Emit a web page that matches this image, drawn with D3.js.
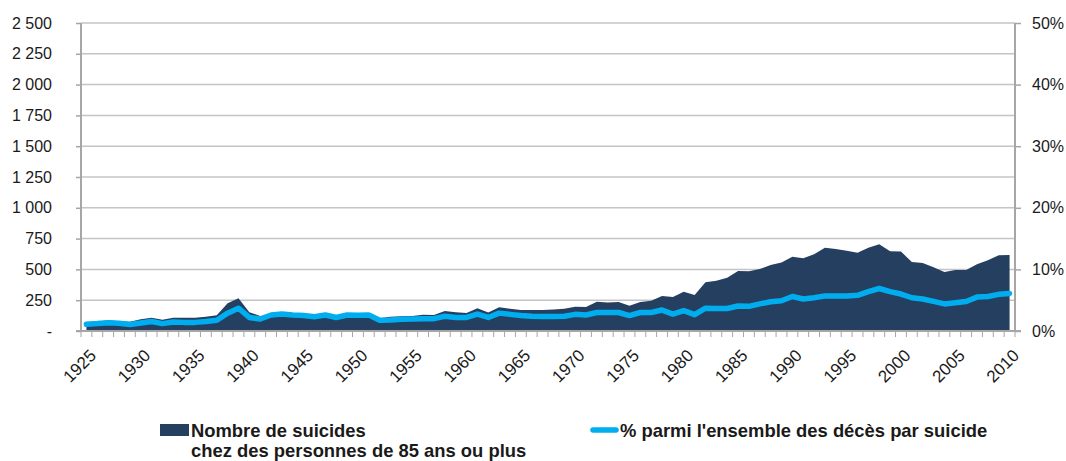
<!DOCTYPE html>
<meta charset="utf-8">
<script src="https://d3js.org/d3.v7.min.js"></script>
<style>
  body { margin: 0; background: #fff; }
  text { font-family: "Liberation Sans", Arial, sans-serif; fill: #1a1a1a; }
</style>
<div id="my_dataviz"></div>
<script>

  // years 1925..2010
  var years = d3.range(1925, 2011);

  // number of suicides, people aged 85+
  var counts = [68, 76, 87, 80, 76, 95, 108, 92, 108, 108,
                108, 116, 127, 225, 265, 152, 122, 130, 140, 135,
                130, 125, 135, 120, 140, 135, 140, 103, 115, 120,
                122, 132, 130, 162, 152, 146, 184, 150, 192, 180,
                170, 170, 170, 175, 180, 197, 195, 238, 232, 235,
                205, 235, 246, 284, 276, 319, 292, 395, 408, 433,
                487, 486, 503, 536, 555, 603, 590, 622, 676, 666,
                652, 636, 676, 704, 647, 645, 560, 551, 517, 479,
                495, 495, 541, 574, 614, 617];

  // share among all suicide deaths (%)
  var shares = [1.1, 1.2, 1.35, 1.25, 1.05, 1.3, 1.55, 1.2, 1.45, 1.4,
                1.4, 1.55, 1.75, 2.9, 3.7, 2.2, 1.95, 2.6, 2.75, 2.6,
                2.5, 2.3, 2.6, 2.2, 2.6, 2.55, 2.6, 1.75, 1.8, 1.9,
                1.95, 2.0, 2.0, 2.4, 2.2, 2.2, 2.75, 2.2, 2.9, 2.7,
                2.5, 2.4, 2.35, 2.35, 2.4, 2.7, 2.6, 3.0, 3.0, 3.0,
                2.5, 3.0, 3.0, 3.4, 2.75, 3.3, 2.65, 3.7, 3.65, 3.65,
                4.05, 4.0, 4.4, 4.75, 4.9, 5.6, 5.2, 5.4, 5.7, 5.7,
                5.7, 5.8, 6.4, 6.9, 6.4, 6.0, 5.4, 5.2, 4.8, 4.4,
                4.6, 4.8, 5.5, 5.6, 5.95, 6.1];

  var leftTicks = [0, 250, 500, 750, 1000, 1250, 1500, 1750, 2000, 2250, 2500];
  var rightTicks = [0, 10, 20, 30, 40, 50];
  var legendArea = ["Nombre de suicides", "chez des personnes de 85 ans ou plus"];
  var legendLine = "% parmi l'ensemble des décès par suicide";

  var margin = {top: 23, right: 51, bottom: 130, left: 81},
      width = 1066 - margin.left - margin.right,
      height = 461 - margin.top - margin.bottom;

  var svg = d3.select("#my_dataviz")
    .append("svg")
      .attr("width", 1066)
      .attr("height", 461)
    .append("g")
      .attr("transform", "translate(" + margin.left + "," + margin.top + ")");

  var data = years.map(function(y, i) { return {year: y, n: counts[i], pct: shares[i]}; });

  var x = d3.scaleBand().domain(years).range([0, width]).padding(0);
  var cx = function(d) { return x(d) + x.bandwidth() / 2; };
  var y = d3.scaleLinear().domain([0, 2500]).range([height, 0]);
  var y2 = d3.scaleLinear().domain([0, 50]).range([height, 0]);

  // gridlines
  svg.append("g")
    .selectAll("line")
    .data(leftTicks.slice(1))
    .enter().append("line")
      .attr("x1", 0).attr("x2", width)
      .attr("y1", function(d) { return y(d); })
      .attr("y2", function(d) { return y(d); })
      .style("stroke", "#c4c4c4")
      .style("stroke-width", 1.5);

  // area
  svg.append("path")
    .datum(data)
    .attr("d", d3.area()
      .x(function(d) { return cx(d.year); })
      .y0(height)
      .y1(function(d) { return y(d.n); }))
    .style("fill", "#243f60");

  // line
  svg.append("path")
    .datum(data)
    .attr("d", d3.line()
      .x(function(d) { return cx(d.year); })
      .y(function(d) { return y2(d.pct); }))
    .style("fill", "none")
    .style("stroke", "#00aeef")
    .style("stroke-width", 5.5)
    .style("stroke-linecap", "round")
    .style("stroke-linejoin", "round");

  // left axis
  var yAxis = svg.append("g")
    .call(d3.axisLeft(y).tickValues(leftTicks).tickSize(5).tickPadding(24)
      .tickFormat(function(d) { return d === 0 ? "-" : d3.format(",")(d).replace(",", " "); }));
  yAxis.selectAll("path, line").style("stroke", "#a6a6a6").style("stroke-width", 1.5);
  yAxis.selectAll("text").style("font-size", "16px").style("font-family", "Liberation Sans, Arial").style("fill", "#1a1a1a");
  yAxis.select(".domain").attr("d", "M0," + height + "V0").style("stroke-width", 2);

  // right axis
  var y2Axis = svg.append("g")
    .attr("transform", "translate(" + width + ",0)")
    .call(d3.axisRight(y2).tickValues(rightTicks).tickSize(6).tickPadding(11)
      .tickFormat(function(d) { return d + "%"; }));
  y2Axis.selectAll("path, line").style("stroke", "#a6a6a6").style("stroke-width", 1.5);
  y2Axis.selectAll("text").style("font-size", "16px").style("font-family", "Liberation Sans, Arial").style("fill", "#1a1a1a");
  y2Axis.select(".domain").attr("d", "M0," + height + "V0").style("stroke-width", 2);

  // bottom axis line and category ticks
  var xg = svg.append("g").attr("transform", "translate(0," + height + ")");
  xg.append("line")
    .attr("x1", -5).attr("x2", width + 6)
    .style("stroke", "#a6a6a6").style("stroke-width", 2);
  xg.selectAll(".tk")
    .data(years.concat([null]))
    .enter().append("line")
      .attr("x1", function(d) { return d === null ? width : x(d); })
      .attr("x2", function(d) { return d === null ? width : x(d); })
      .attr("y1", 0).attr("y2", 6)
      .style("stroke", "#a6a6a6").style("stroke-width", 1);
  xg.selectAll(".lbl")
    .data(years.filter(function(d) { return d % 5 === 0; }))
    .enter().append("text")
      .attr("transform", function(d) { return "translate(" + (cx(d) + 2) + ",17) rotate(-45)"; })
      .attr("text-anchor", "end")
      .attr("dy", "0.72em")
      .style("font-size", "17px")
      .text(function(d) { return d; });

  // legend
  var lg = svg.append("g").attr("transform", "translate(" + (-margin.left) + "," + (-margin.top) + ")");
  lg.append("rect")
    .attr("x", 160).attr("y", 424).attr("width", 29).attr("height", 12)
    .style("fill", "#243f60");
  lg.selectAll(".la")
    .data(legendArea)
    .enter().append("text")
      .attr("x", 191)
      .attr("y", function(d, i) { return 437 + i * 20; })
      .style("font-size", "18.4px")
      .style("font-weight", "bold")
      .text(function(d) { return d; });
  lg.append("line")
    .attr("x1", 593).attr("x2", 616).attr("y1", 430).attr("y2", 430)
    .style("stroke", "#00aeef").style("stroke-width", 5.5).style("stroke-linecap", "round");
  lg.append("text")
    .attr("x", 620).attr("y", 437)
    .style("font-size", "18.4px")
    .style("font-weight", "bold")
    .text(legendLine);

</script>
